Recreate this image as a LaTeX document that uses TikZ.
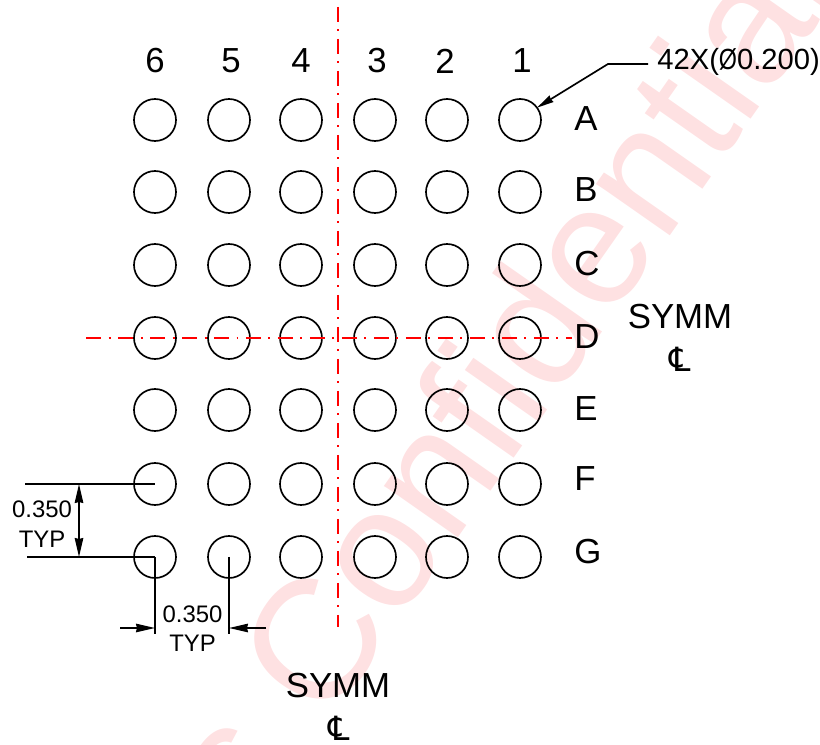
\documentclass[tikz,border=0pt]{standalone}
\usepackage{fontspec}
\setmainfont{Liberation Sans}
\newfontfamily\clfont{DejaVu Sans}
\usetikzlibrary{arrows.meta, positioning}
\definecolor{wmark}{RGB}{254,225,226}
\tikzset{
  ball/.style={circle, draw=black, line width=0.95pt, minimum size=0.84cm, inner sep=0pt, outer sep=0pt},
  bigtxt/.style={font=\fontsize{19.8}{20}\selectfont, inner sep=0pt},
  dimtxt/.style={font=\fontsize{13.6}{14}\selectfont, inner sep=0pt},
  dimline/.style={black, line width=0.95pt},
  cenline/.style={red, line width=1pt, dash pattern=on 0.3cm off 0.15cm on 0.04cm off 0.15cm},
  dimtip/.style={-{Stealth[length=0.38cm,width=0.17cm,inset=0.02cm]}}
}
\begin{document}
\begin{tikzpicture}
\useasboundingbox (0,0) rectangle (16.4,14.9);
\begin{scope}
\clip (0,0) rectangle (16.4,14.9);
\node (wm) [anchor=base west, rotate=55, inner sep=0pt, text=wmark, font=\fontsize{97}{97}\selectfont] at (5.0,-1.8) {s Confidential};
\end{scope}
%Balls:
\foreach \row/\y in {A/12.50,B/11.06,C/9.60,D/8.14,E/6.70,F/5.22,G/3.76} {
  \foreach \col/\x in {1/10.40,2/8.94,3/7.50,4/6.02,5/4.58,6/3.10} {
    \node (\row\col) [ball] at (\x,\y) {};
  }
}
%Column and row labels:
\foreach \col/\x in {1/10.44,2/8.90,3/7.54,4/6.02,5/4.62,6/3.10} {
  \node (top\col) [bigtxt] at (\x,13.68) {\col};
}
\foreach \row/\y in {A/12.52,B/11.10,C/9.62,D/8.16,E/6.72,F/5.32,G/3.86} {
  \node (lab\row) [bigtxt, anchor=west] at (11.48,\y) {\row};
}
%Centre lines:
\coordinate (vtop) at (6.76,14.76);
\coordinate (vbot) at (6.76,2.36);
\coordinate (hleft) at (1.72,8.14);
\coordinate (hright) at (11.44,8.14);
\draw [cenline] (vtop) -- (vbot);
\draw [cenline] (hleft) -- (hright);
%Leader:
\node (count) [dimtxt, font=\fontsize{16.6}{17}\selectfont, anchor=west] at (13.14,13.66) {42X(\scalebox{0.8}[1]{Ø}0.200)};
\coordinate (leadA) at (12.96,13.62);
\coordinate (leadB) at (12.16,13.62);
\draw [dimline, -{Stealth[length=0.34cm,width=0.15cm,inset=0.02cm]}] (leadA) -- (leadB) -- (A1.36);
%Vertical pitch:
\coordinate (extF) at (0.50,5.22);
\coordinate (extG) at (0.54,3.76);
\coordinate (arrF) at (1.58,5.22);
\coordinate (arrG) at (1.58,3.76);
\draw [dimline] (extF) -- (F6.center);
\draw [dimline] (extG) -- (G6.center);
\path [dimline]
(arrF) edge [{Stealth[length=0.38cm,width=0.17cm,inset=0.02cm]}-{Stealth[length=0.38cm,width=0.17cm,inset=0.02cm]}] (arrG)
;
\node (vdim) [dimtxt] at (0.84,4.72) {0.350};
\node (vtyp) [dimtxt] at (0.84,4.12) {TYP};
%Horizontal pitch:
\coordinate (extL) at (3.10,2.22);
\coordinate (extR) at (4.58,2.22);
\coordinate (arrL) at (3.10,2.34);
\coordinate (arrR) at (4.58,2.34);
\coordinate (tailL) at (2.40,2.34);
\coordinate (tailR) at (5.32,2.34);
\draw [dimline] (G6.center) -- (extL);
\draw [dimline] (G5.center) -- (extR);
\draw [dimline, dimtip] (tailL) -- (arrL);
\draw [dimline, dimtip] (tailR) -- (arrR);
\node (hdim) [dimtxt] at (3.85,2.62) {0.350};
\node (htyp) [dimtxt] at (3.85,2.04) {TYP};
%Symmetry marks:
\node (symmR) [bigtxt] at (13.60,8.56) {SYMM};
\node (clR) [bigtxt, font=\clfont\fontsize{19}{20}\selectfont] at (13.60,7.72) {℄};
\node (symmB) [bigtxt] at (6.76,1.18) {SYMM};
\node (clB) [bigtxt, font=\clfont\fontsize{19}{20}\selectfont] at (6.78,0.34) {℄};
\end{tikzpicture}
\end{document}
